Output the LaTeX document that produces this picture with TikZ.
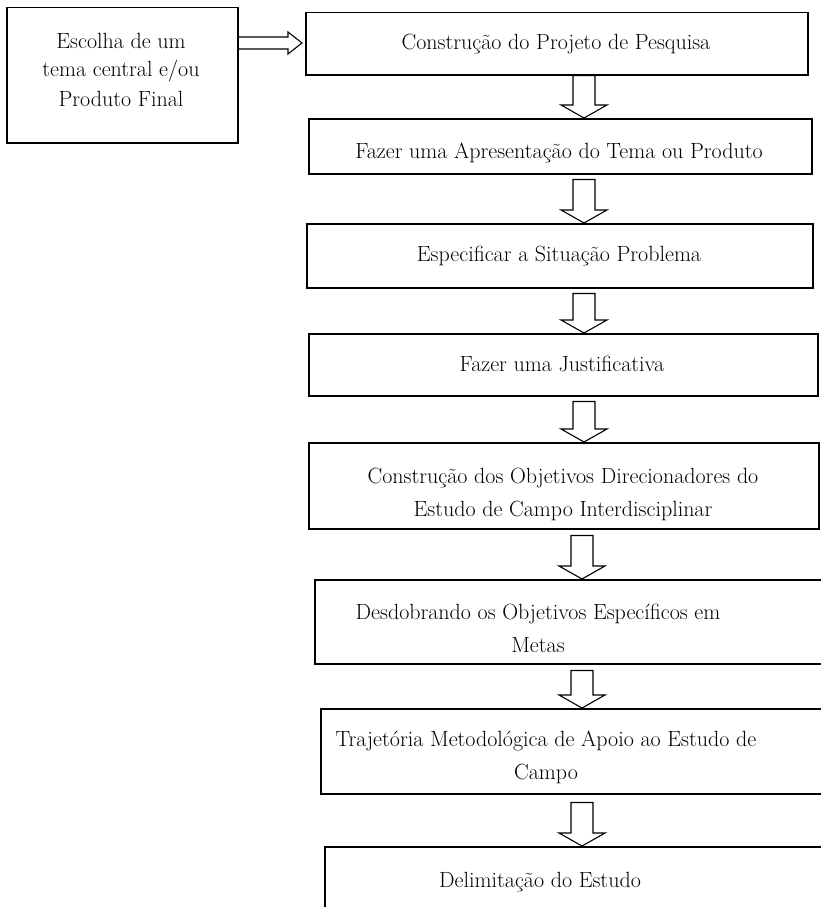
\documentclass[tikz,border=0pt]{standalone}
\usetikzlibrary{calc}
\begin{document}
\begin{tikzpicture}[x=1pt,y=-1pt,
  box/.style={draw, line width=1.5pt, inner sep=0pt, anchor=north west},
  txt/.style={font=\fontsize{22}{29}\selectfont, align=center, inner sep=0pt, anchor=base},
  txtb/.style={font=\fontsize{22}{32.5}\selectfont, align=center, inner sep=0pt, anchor=base},
  blockdown/.style={line width=1.1pt, line join=miter, to path={let \p1=(\tikztostart), \p2=(\tikztotarget) in
    (\x1-11pt,\y1) -- (\x1-11pt,\y2+13pt) -- (\x1-23pt,\y2+13pt) -- (\x2,\y2) --
    (\x1+23pt,\y2+13pt) -- (\x1+11pt,\y2+13pt) -- (\x1+11pt,\y1) -- cycle}},
  blockright/.style={line width=1.1pt, line join=miter, to path={let \p1=(\tikztostart), \p2=(\tikztotarget) in
    (\x1,\y1+6pt) -- (\x2-14pt,\y1+6pt) -- (\x2-14pt,\y1+11pt) -- (\x2,\y1) --
    (\x2-14pt,\y1-11pt) -- (\x2-14pt,\y1-6pt) -- (\x1,\y1-6pt)}},
]
\useasboundingbox (0,0) rectangle (821,907);
\clip (0,0) rectangle (821,907);

% boxes
\node[box, minimum width=231pt, minimum height=135pt] (b0) at (6,7) {};
\node[box, minimum width=502pt, minimum height=62pt] (b1) at (305,12) {};
\node[box, minimum width=503pt, minimum height=55pt] (b2) at (308,118) {};
\node[box, minimum width=506pt, minimum height=64pt] (b3) at (306,223) {};
\node[box, minimum width=509pt, minimum height=62pt] (b4) at (308,333) {};
\node[box, minimum width=510pt, minimum height=86pt] (b5) at (308,442) {};
\node[box, minimum width=530pt, minimum height=84pt] (b6) at (314,579) {};
\node[box, minimum width=530pt, minimum height=85pt] (b7) at (320,708) {};
\node[box, minimum width=530pt, minimum height=100pt] (b8) at (324,846) {};

% texts (base anchor = baseline of the last line)
\node[txt] (t0) at (121,106) {Escolha de um\\tema central e/ou\\Produto Final};
\node[txt] (t1) at (556,50) {Construção do Projeto de Pesquisa};
\node[txt] (t2) at (559,158) {Fazer uma Apresentação do Tema ou Produto};
\node[txt] (t3) at (559,261) {Especificar a Situação Problema};
\node[txt] (t4) at (562,371) {Fazer uma Justificativa};
\node[txtb] (t5) at (563,516) {Construção dos Objetivos Direcionadores do\\Estudo de Campo Interdisciplinar};
\node[txtb] (t6) at (538,652) {Desdobrando os Objetivos Específicos em\\Metas};
\node[txtb] (t7) at (546,779) {Trajetória Metodológica de Apoio ao Estudo de\\Campo};
\node[txt] (t8) at (540,887) {Delimitação do Estudo};

% connectors
\coordinate (ax) at (584,0);
\coordinate (bx) at (582,0);
\coordinate (ay) at (0,43);
\draw[blockright] (b0.east |- ay) to ([xshift=-3pt]b1.west);
\draw[blockdown] (b1.south -| ax) to (b2.north -| ax);
\draw[blockdown] ([yshift=-5pt]b2.south -| ax) to (b3.north -| ax);
\draw[blockdown] ([yshift=-5pt]b3.south -| ax) to (b4.north -| ax);
\draw[blockdown] ([yshift=-5pt]b4.south -| ax) to (b5.north -| ax);
\draw[blockdown] ([yshift=-6pt]b5.south -| bx) to (b6.north -| bx);
\draw[blockdown] ([yshift=-6pt]b6.south -| bx) to (b7.north -| bx);
\draw[blockdown] ([yshift=-8pt]b7.south -| bx) to (b8.north -| bx);
\end{tikzpicture}
\end{document}
